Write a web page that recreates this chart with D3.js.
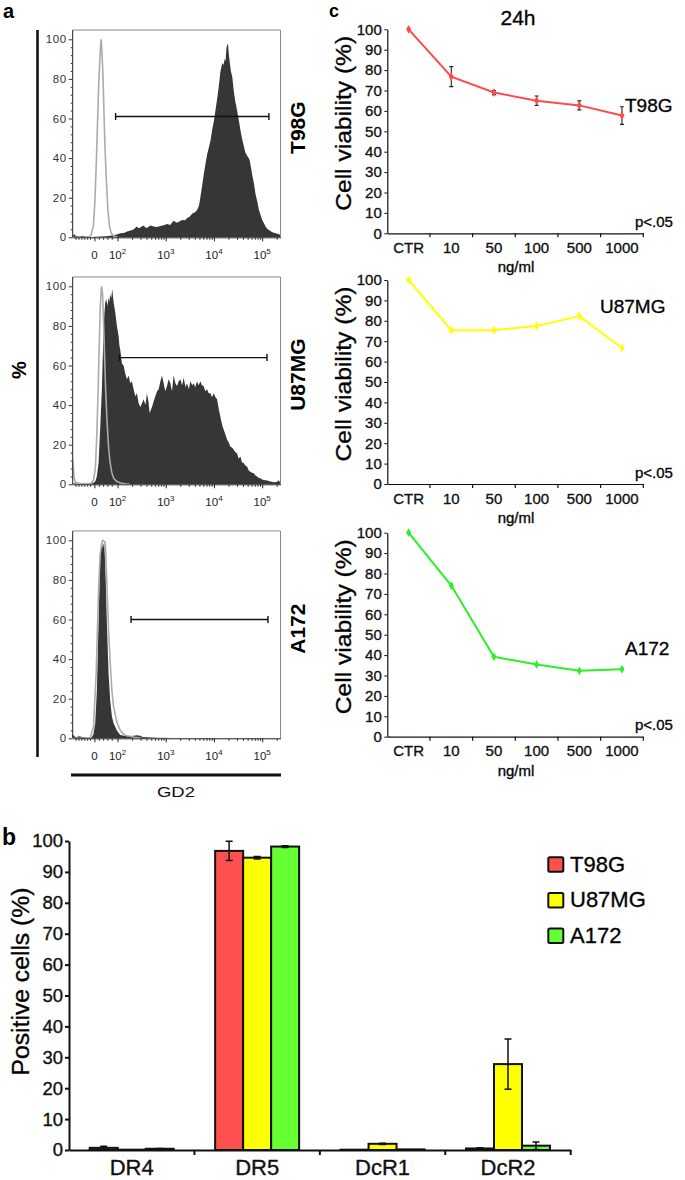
<!DOCTYPE html>
<html><head><meta charset="utf-8">
<script src="https://cdn.jsdelivr.net/npm/d3@7"></script>
<style>
html,body{margin:0;padding:0;background:#fff;}
svg{display:block;font-family:"Liberation Sans",Arial,Helvetica,sans-serif;}
.heavy text, text.heavy{stroke:#111;stroke-width:0.35px;}
</style>
</head><body>
<svg id="fig" width="685" height="1180"></svg>
<script>
// ---------- DATA ----------
// Panel a: GD2 flow histograms (x in log10 channel units, y in % of max)
const histCells = ["T98G", "U87MG", "A172"];
const histTickPos = [1.52, 2, 3, 4, 5];
const histTickBase = ["0", "10", "10", "10", "10"];
const histTickExp = ["", "2", "3", "4", "5"];
const histYTicks = [0, 20, 40, 60, 80, 100];
const histGates = [[1.96, 5.14, 61], [2.04, 5.10, 64], [2.28, 5.12, 60]];

const t98gGd2 = [[1.07,0.8],[1.10,1.6],[1.14,0.6],[1.20,0.4],[1.28,0.8],[1.36,0.3],[1.45,0.2],[1.55,0.3],[1.65,0.4],[1.75,0.5],[1.85,0.8],[1.92,1.0],[2.0,1.6],[2.06,2.0],[2.13,2.2],[2.2,2.9],[2.27,3.4],[2.33,4.0],[2.40,5.4],[2.44,4.6],[2.47,4.9],[2.54,6.0],[2.58,5.0],[2.61,4.7],[2.68,6.0],[2.75,5.4],[2.82,5.2],[2.89,5.7],[2.96,6.1],[3.03,6.7],[3.09,6.2],[3.13,7.4],[3.16,8.4],[3.23,7.4],[3.29,8.1],[3.34,8.8],[3.40,8.6],[3.44,9.6],[3.50,10.5],[3.55,12],[3.60,12.5],[3.65,13.8],[3.69,16],[3.72,20.5],[3.76,27],[3.79,32],[3.83,38],[3.86,42],[3.90,46],[3.93,49],[3.96,54],[4.00,59],[4.03,64],[4.06,69],[4.10,76],[4.13,83],[4.17,88],[4.20,87],[4.22,90],[4.24,89],[4.26,96],[4.29,98],[4.31,92],[4.33,88],[4.35,84],[4.38,81],[4.41,74],[4.44,69],[4.48,64],[4.51,60],[4.55,54],[4.58,50],[4.62,46],[4.65,43],[4.69,41],[4.72,40],[4.74,39],[4.77,35],[4.79,32],[4.83,27],[4.86,22],[4.90,18],[4.93,14],[4.97,11],[5.00,8.8],[5.04,7],[5.07,5.4],[5.10,4.5],[5.14,3.7],[5.21,2.5],[5.28,2.0],[5.35,1.5],[5.38,1.2]];
const t98gIso = [[1.07,0],[1.30,0],[1.40,0.2],[1.45,1],[1.50,6],[1.53,18],[1.56,38],[1.59,62],[1.61,78],[1.63,88],[1.65,97],[1.66,100],[1.68,92],[1.70,80],[1.72,62],[1.74,45],[1.77,28],[1.80,14],[1.83,6],[1.87,2],[1.92,0.6],[2.0,0]];

const u87Gd2 = [[1.07,0.5],[1.2,0.3],[1.35,0.2],[1.45,0.3],[1.50,0.8],[1.537,1.4],[1.57,4],[1.606,10.7],[1.64,28],[1.675,48],[1.70,70],[1.724,85],[1.745,92],[1.765,93.6],[1.79,90],[1.814,94.4],[1.83,92],[1.848,96],[1.87,94],[1.890,98.6],[1.918,92],[1.952,87],[1.987,80],[2.021,75],[2.04,70],[2.056,68],[2.091,61],[2.125,60],[2.160,56],[2.195,53],[2.229,55],[2.264,51],[2.298,52],[2.333,48],[2.368,44.5],[2.402,46],[2.437,41],[2.472,39],[2.51,41],[2.541,43],[2.58,40],[2.610,46],[2.64,42],[2.666,36],[2.714,39],[2.75,42],[2.783,44.5],[2.82,47],[2.853,48],[2.89,52],[2.922,55],[2.956,51],[2.99,47],[3.026,49.6],[3.06,53],[3.095,51],[3.13,47],[3.164,55],[3.20,51],[3.233,49.6],[3.27,52],[3.303,53],[3.34,50],[3.372,53.8],[3.41,49],[3.441,51],[3.48,48],[3.510,52],[3.55,50],[3.579,51],[3.61,49],[3.649,52],[3.68,50],[3.718,52],[3.75,50],[3.787,49.6],[3.82,47],[3.856,48],[3.89,46],[3.926,46],[3.96,44],[3.995,46],[4.03,44],[4.064,43],[4.10,38],[4.133,34],[4.17,30],[4.202,27.6],[4.24,25],[4.272,22.5],[4.31,21],[4.341,19],[4.38,18.5],[4.410,17.4],[4.45,16],[4.479,15.7],[4.51,13],[4.549,14],[4.58,11],[4.618,10.7],[4.65,9.5],[4.687,9],[4.72,7],[4.756,6.4],[4.79,5.8],[4.826,5.6],[4.86,4.5],[4.895,3.9],[4.93,3.2],[4.964,3],[5.0,2.4],[5.033,2.2],[5.07,2.0],[5.103,1.9],[5.172,1.4],[5.241,1.0],[5.30,1.2],[5.345,2],[5.38,0.5]];
const u87Iso = [[1.07,12],[1.085,8],[1.10,3],[1.13,1],[1.2,0.5],[1.35,0.3],[1.45,0.5],[1.50,2],[1.54,8],[1.57,25],[1.60,50],[1.62,70],[1.64,88],[1.66,98],[1.67,100],[1.69,96],[1.71,82],[1.73,66],[1.75,50],[1.78,33],[1.81,20],[1.84,12],[1.88,6],[1.92,3],[1.98,1.5],[2.05,0.8],[2.15,0.3],[2.25,0]];

const a172Gd2 = [[1.07,2],[1.10,1.2],[1.14,0.5],[1.2,1],[1.3,0.5],[1.40,0.3],[1.467,0.5],[1.50,2],[1.537,7.6],[1.571,24],[1.606,58],[1.641,92],[1.66,97],[1.675,99],[1.696,96],[1.71,98],[1.724,99],[1.751,83],[1.779,58],[1.814,33],[1.848,19],[1.883,11],[1.918,7.6],[1.987,4],[2.056,1.7],[2.195,1],[2.26,1.2],[2.298,1.1],[2.40,1.5],[2.471,1.3],[2.52,0.6],[2.610,0.5],[2.8,0.3],[3.2,0.2],[4,0.1],[5.38,0]];
const a172Iso = [[1.07,0],[1.35,0],[1.433,0.2],[1.502,6],[1.557,33],[1.606,75],[1.64,93],[1.675,99],[1.70,100],[1.745,99],[1.779,78],[1.814,54],[1.848,38],[1.883,24],[1.918,16],[1.987,8],[2.056,4],[2.125,2],[2.195,1.3],[2.264,1.0],[2.35,0.5],[2.5,0]];

// Panel c: viability at 24h
const doses = ["CTR", "10", "50", "100", "500", "1000"];
const viabTicks = [0, 10, 20, 30, 40, 50, 60, 70, 80, 90, 100];
const t98gViab = [100, 76.8, 69.0, 65.0, 62.7, 57.7];
const t98gViabErr = [0, 4.9, 1.0, 2.3, 2.2, 4.3];
const u87Viab = [100, 75.4, 75.4, 77.4, 82.3, 66.7];
const u87ViabErr = [0, 0, 0, 0, 0, 0];
const a172Viab = [100, 74.1, 39.2, 35.4, 32.3, 33.1];
const a172ViabErr = [0, 0, 0, 0, 0, 0];

// Panel b: positive cells
const receptors = ["DR4", "DR5", "DcR1", "DcR2"];
const posTicks = [0, 10, 20, 30, 40, 50, 60, 70, 80, 90, 100];
const t98gPos = [0.7, 96.8, 0.1, 0.5];
const t98gPosErr = [0.5, 3.1, 0, 0.2];
const u87Pos = [0.1, 94.6, 2.0, 27.8];
const u87PosErr = [0, 0.4, 0.2, 8.1];
const a172Pos = [0.4, 98.2, 0.2, 1.4];
const a172PosErr = [0.1, 0.3, 0, 1.2];

const cellColorsBar = ["#ff5050", "#ffff00", "#66ff33"];
const cellColorsLine = ["#ff4b4b", "#ffff00", "#2cef2c"];

// ---------- DRAW ----------
const svg = d3.select("#fig");
const FONT = "Liberation Sans, Arial, Helvetica, sans-serif";

// Panel letters
svg.append("text").attr("x", 3).attr("y", 18).attr("font-size", 20).attr("font-weight", "bold").text("a");
svg.append("text").attr("x", 329).attr("y", 17).attr("font-size", 18).attr("font-weight", "bold").text("c");
svg.append("text").attr("x", 2).attr("y", 845).attr("font-size", 23).attr("font-weight", "bold").text("b");

// ===== Panel a =====
const histDark = [t98gGd2, u87Gd2, a172Gd2];
const histIso = [t98gIso, u87Iso, a172Iso];
const HZERO = [237.3, 484.3, 738.3];
const HH = 198;
const hx = d3.scaleLinear().domain([1.07, 5.38]).range([72.7, 280.5]);
const [hx0, hx1] = hx.range();

const minorX = [1.13, 1.19, 1.25, 1.31, 1.37, 1.43, 1.61, 1.70, 1.79, 1.88];
[2, 3, 4].forEach(d => { for (let k = 2; k <= 9; k++) minorX.push(d + Math.log10(k)); });
minorX.push(5 + Math.log10(2));
const minorY = d3.range(0, 101, 4).filter(v => v % 20 !== 0);

histCells.forEach((cell, i) => {
  const g = svg.append("g");
  const y = d3.scaleLinear().domain([0, 100]).range([HZERO[i], HZERO[i] - HH]);
  const top = y(104.7);
  const cid = "hclip" + i;
  svg.append("defs").append("clipPath").attr("id", cid)
    .append("rect").attr("x", hx0).attr("y", top).attr("width", hx1 - hx0).attr("height", y(0) - top);

  g.append("path").datum(histDark[i]).attr("clip-path", `url(#${cid})`)
    .attr("d", d3.area().x(d => hx(d[0])).y0(y(0)).y1(d => y(d[1])))
    .attr("fill", "#363636");
  g.append("path").datum(histIso[i]).attr("clip-path", `url(#${cid})`)
    .attr("d", d3.line().x(d => hx(d[0])).y(d => y(d[1])))
    .attr("fill", "none").attr("stroke", "#ababab").attr("stroke-width", 1.6);

  // frame
  g.append("path").attr("d", `M${hx0},${top}H${hx1}V${y(0)}`)
    .attr("fill", "none").attr("stroke", "#8a8a8a").attr("stroke-width", 1);
  g.append("line").attr("x1", hx0).attr("x2", hx0).attr("y1", top).attr("y2", y(0))
    .attr("stroke", "#222").attr("stroke-width", 1);

  // gate
  const gt = histGates[i];
  const gy = y(gt[2]);
  g.append("path").attr("d", `M${hx(gt[0])},${gy - 3.5}V${gy + 3.5}M${hx(gt[0])},${gy}H${hx(gt[1])}M${hx(gt[1])},${gy - 3.5}V${gy + 3.5}`)
    .attr("stroke", "#111").attr("stroke-width", 1.4).attr("fill", "none");

  // y axis
  const ya = g.append("g").attr("transform", `translate(${hx0},0)`)
    .call(d3.axisLeft(y).tickValues(histYTicks).tickSize(4).tickSizeOuter(0).tickPadding(2));
  ya.select(".domain").remove();
  ya.attr("color", "#333").attr("font-family", FONT).selectAll("text").attr("font-size", 11.5).attr("letter-spacing", 0.6);
  const ym = g.append("g").attr("transform", `translate(${hx0},0)`)
    .call(d3.axisLeft(y).tickValues(minorY).tickSize(2).tickFormat(""));
  ym.select(".domain").remove();
  ym.attr("color", "#333");

  // x axis
  const xa = g.append("g").attr("transform", `translate(0,${y(0)})`)
    .call(d3.axisBottom(hx).tickValues(histTickPos).tickSize(4).tickSizeOuter(0).tickFormat(""));
  xa.attr("color", "#222");
  const xm = g.append("g").attr("transform", `translate(0,${y(0)})`)
    .call(d3.axisBottom(hx).tickValues(minorX).tickSize(2.5).tickSizeOuter(0).tickFormat(""));
  xm.select(".domain").remove();
  xm.attr("color", "#333");
  histTickPos.forEach((p, k) => {
    const t = g.append("text").attr("x", hx(p)).attr("y", y(0) + 22)
      .attr("text-anchor", "middle").attr("font-size", 11.5).attr("fill", "#222").text(histTickBase[k]);
    if (histTickExp[k]) t.append("tspan").attr("dy", -5).attr("font-size", 8).text(histTickExp[k]);
  });

  // cell label
  svg.append("text").attr("transform", `translate(305,${(top + y(0)) / 2 - 6}) rotate(-90)`)
    .attr("text-anchor", "middle").attr("font-size", 21).attr("font-weight", "bold").text(cell);
});

// panel a frame lines and labels
svg.append("line").attr("x1", 37.5).attr("x2", 37.5).attr("y1", 30).attr("y2", 757)
  .attr("stroke", "#111").attr("stroke-width", 2.6);
svg.append("line").attr("x1", 71).attr("x2", 281).attr("y1", 775).attr("y2", 775)
  .attr("stroke", "#111").attr("stroke-width", 2.8);
svg.append("text").attr("transform", "translate(26,370) rotate(-90)").attr("text-anchor", "middle")
  .attr("font-size", 20).attr("font-weight", "bold").text("%");
svg.append("text").attr("x", 176).attr("y", 796.5).attr("text-anchor", "middle")
  .attr("font-size", 15).attr("textLength", 38).attr("lengthAdjust", "spacingAndGlyphs").attr("fill", "#111").text("GD2");

// ===== Panel c =====
const viabVals = [t98gViab, u87Viab, a172Viab];
const viabErrs = [t98gViabErr, u87ViabErr, a172ViabErr];
const labelVals = [59.6, 84, 40];
const labelX = [625, 600, 625];
const CZERO = [233.3, 484, 736.7];
const CH = 204;
const cx = d3.scaleBand().domain(doses).range([387.3, 643.3]).padding(0);
const cbw = cx.bandwidth();

svg.append("text").attr("class", "heavy").attr("x", 518).attr("y", 25).attr("text-anchor", "middle").attr("font-size", 21).text("24h");

histCells.forEach((cell, i) => {
  const g = svg.append("g").attr("class", "heavy");
  const y = d3.scaleLinear().domain([0, 100]).range([CZERO[i], CZERO[i] - CH]);

  const ya = g.append("g").attr("transform", `translate(${cx.range()[0]},0)`)
    .call(d3.axisLeft(y).tickValues(viabTicks).tickSize(3).tickPadding(2.5).tickSizeOuter(0));
  ya.attr("color", "#111").attr("font-family", FONT).selectAll("text").attr("font-size", 15);
  ya.select(".domain").attr("stroke-width", 1.2);

  const xa = g.append("g").attr("transform", `translate(0,${y(0)})`)
    .call(d3.axisBottom(cx).tickSize(0).tickPadding(9).tickSizeOuter(0));
  xa.attr("color", "#111").attr("font-family", FONT).selectAll("text").attr("font-size", 15);
  xa.select(".domain").attr("stroke-width", 1.2);
  doses.slice(1).concat([null]).forEach(d => {
    const xv = d === null ? cx.range()[1] : cx(d);
    g.append("line").attr("x1", xv).attr("x2", xv).attr("y1", y(0)).attr("y2", y(0) + 4)
      .attr("stroke", "#111").attr("stroke-width", 1.2);
  });

  g.append("text").attr("x", 516).attr("y", y(0) + 39).attr("text-anchor", "middle").attr("font-size", 15).text("ng/ml");
  g.append("text").attr("transform", `translate(351,${(y(0) + y(100)) / 2 - 8}) rotate(-90)`)
    .attr("text-anchor", "middle").attr("font-size", 22).attr("textLength", 175)
    .attr("lengthAdjust", "spacingAndGlyphs").text("Cell viability (%)");

  const pts = doses.map((d, k) => ({ d, v: viabVals[i][k], e: viabErrs[i][k] }));
  g.append("path").datum(pts)
    .attr("d", d3.line().x(p => cx(p.d) + cbw / 2).y(p => y(p.v)))
    .attr("fill", "none").attr("stroke", cellColorsLine[i]).attr("stroke-width", 2);
  pts.filter(p => p.e > 0).forEach(p => {
    const xx = cx(p.d) + cbw / 2;
    g.append("path").attr("d", `M${xx},${y(p.v + p.e)}V${y(p.v - p.e)}M${xx - 2},${y(p.v + p.e)}H${xx + 2}M${xx - 2},${y(p.v - p.e)}H${xx + 2}`)
      .attr("stroke", "#222").attr("stroke-width", 1.1).attr("fill", "none");
  });
  g.selectAll(".mk").data(pts).join("path")
    .attr("transform", p => `translate(${cx(p.d) + cbw / 2},${y(p.v)})`)
    .attr("d", d3.symbol(d3.symbolDiamond, 22)).attr("fill", cellColorsLine[i]);

  g.append("text").attr("x", labelX[i]).attr("y", y(labelVals[i])).attr("font-size", 19).text(cell);
  g.append("text").attr("x", 635).attr("y", y(0) - 6.5).attr("font-size", 15).text("p<.05");
});

// ===== Panel b =====
const posVals = [t98gPos, u87Pos, a172Pos];
const posErrs = [t98gPosErr, u87PosErr, a172PosErr];
const bx = d3.scaleBand().domain(receptors).range([69, 570.7]).padding(0);
const bx1 = d3.scaleBand().domain(histCells).range([0, 84]).padding(0);
const bOff = (bx.bandwidth() - 84) / 2;
const by = d3.scaleLinear().domain([0, 100]).range([1150, 841]);
const gb = svg.append("g").attr("class", "heavy");

const bya = gb.append("g").attr("transform", "translate(69,0)")
  .call(d3.axisLeft(by).tickValues(posTicks).tickSize(4).tickPadding(2).tickSizeOuter(0));
bya.attr("color", "#111").attr("font-family", FONT).selectAll("text").attr("font-size", 18.5);
bya.select(".domain").attr("stroke-width", 2);
bya.selectAll(".tick line").attr("stroke-width", 2);

histCells.forEach((cell, s) => {
  receptors.forEach((r, k) => {
    const x0 = bx(r) + bOff + bx1(cell);
    const v = posVals[s][k];
    gb.append("rect").attr("x", x0).attr("y", by(v)).attr("width", bx1.bandwidth())
      .attr("height", by(0) - by(v)).attr("fill", cellColorsBar[s])
      .attr("stroke", "#111").attr("stroke-width", 2);
  });
});
histCells.forEach((cell, s) => {
  receptors.forEach((r, k) => {
    const e = posErrs[s][k];
    if (e <= 0) return;
    const v = posVals[s][k];
    const xx = bx(r) + bOff + bx1(cell) + bx1.bandwidth() / 2;
    gb.append("path").attr("d", `M${xx},${by(v + e)}V${by(Math.max(0, v - e))}M${xx - 3.5},${by(v + e)}H${xx + 3.5}M${xx - 3.5},${by(Math.max(0, v - e))}H${xx + 3.5}`)
      .attr("stroke", "#111").attr("stroke-width", 1.5).attr("fill", "none");
  });
});

const bxa = gb.append("g").attr("transform", "translate(0,1150)")
  .call(d3.axisBottom(bx).tickSize(0).tickPadding(9.5).tickSizeOuter(0));
bxa.attr("color", "#111").attr("font-family", FONT).selectAll("text").attr("font-size", 22);
bxa.select(".domain").attr("stroke-width", 2);
receptors.slice(1).concat([null]).forEach(r => {
  const xv = r === null ? bx.range()[1] : bx(r);
  gb.append("line").attr("x1", xv).attr("x2", xv).attr("y1", 1150).attr("y2", 1155)
    .attr("stroke", "#111").attr("stroke-width", 2);
});

gb.append("text").attr("transform", `translate(29,${(by(0) + by(100)) / 2 - 14}) rotate(-90)`)
  .attr("text-anchor", "middle").attr("font-size", 23).attr("textLength", 188)
  .attr("lengthAdjust", "spacingAndGlyphs").text("Positive cells (%)");

// legend
const lg = gb.append("g").attr("transform", "translate(548.3,857.3)");
histCells.forEach((cell, s) => {
  lg.append("rect").attr("x", 0).attr("y", s * 35.6).attr("width", 15).attr("height", 14.5).attr("rx", 1.5)
    .attr("fill", cellColorsBar[s]).attr("stroke", "#111").attr("stroke-width", 2);
  lg.append("text").attr("x", 21.7).attr("y", s * 35.6 + 14.6).attr("font-size", 22).text(cell);
});
</script>
</body></html>
